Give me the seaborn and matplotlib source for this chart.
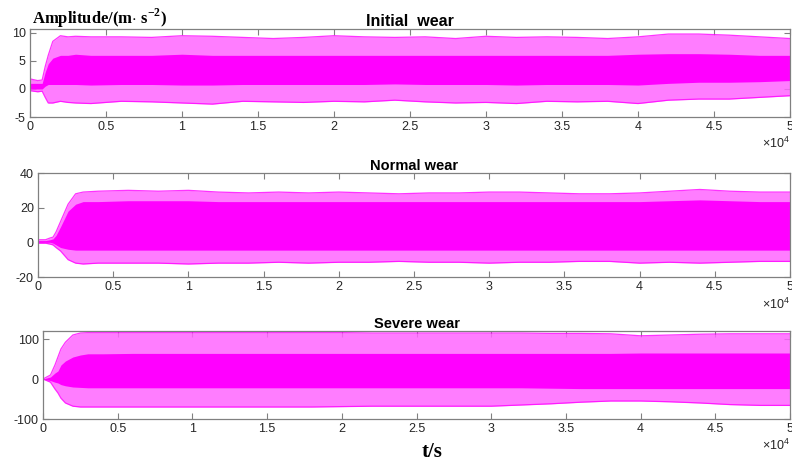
import numpy as np
import pandas as pd
import matplotlib
matplotlib.use("Agg")
import matplotlib.pyplot as plt
import seaborn as sns

# ---------------- data (x in units of 1e4 samples) -------------
x_env = [0, 0.05, 0.08, 0.10, 0.12, 0.15, 0.20, 0.25, 0.30, 0.40, 0.60, 0.80, 1.00, 1.20,
         1.40, 1.60, 1.80, 2.00, 2.20, 2.40, 2.60, 2.80, 3.00, 3.20, 3.40, 3.60, 3.80,
         4.00, 4.20, 4.40, 4.60, 4.80, 5.00]

# Initial wear
init_peak_hi = [1.8, 1.5, 1.6, 4.0, 6.0, 8.5, 9.5, 9.3, 9.4, 9.3, 9.3, 9.2, 9.5, 9.4,
                9.2, 9.0, 9.2, 9.5, 9.3, 9.2, 9.3, 9.0, 9.4, 9.2, 9.3, 9.2, 9.0,
                9.3, 9.8, 9.8, 9.6, 9.3, 9.0]
init_peak_lo = [-0.3, -0.5, -0.4, -1.5, -2.5, -2.5, -2.2, -2.4, -2.5, -2.6, -2.2, -2.3, -2.5, -2.7,
                -2.2, -2.3, -2.4, -2.2, -2.3, -2.0, -2.3, -2.5, -2.4, -2.6, -2.2, -2.3, -2.2,
                -2.6, -2.0, -1.8, -1.8, -1.5, -1.2]
init_core_hi = [1.0, 1.0, 1.0, 3.0, 4.5, 5.5, 6.0, 6.0, 6.2, 6.0, 6.0, 6.0, 6.2, 6.0,
                6.0, 6.0, 6.0, 6.0, 6.0, 6.0, 6.0, 6.0, 6.0, 6.0, 6.0, 6.0, 6.0,
                6.2, 6.3, 6.3, 6.2, 6.0, 6.0]
init_core_lo = [0.0, 0.0, 0.0, 0.5, 0.8, 0.8, 0.8, 0.8, 0.8, 0.7, 0.8, 0.8, 0.7, 0.7,
                0.8, 0.8, 0.8, 0.8, 0.8, 0.9, 0.8, 0.8, 0.8, 0.7, 0.8, 0.8, 0.8,
                0.7, 1.0, 1.2, 1.2, 1.3, 1.5]

# Normal wear
norm_peak_hi = [1.5, 1.5, 2.5, 3.0, 6.0, 12.0, 22.0, 28.0, 29.0, 29.5, 30.0, 29.5, 30.0, 29.0,
                28.5, 29.0, 28.5, 29.0, 28.5, 28.0, 28.5, 28.5, 29.0, 29.0, 28.5, 28.0, 28.0,
                28.5, 29.5, 30.5, 29.5, 29.0, 29.0]
norm_peak_lo = [-0.5, -0.5, -1.0, -1.5, -3.0, -5.0, -10.0, -12.0, -12.5, -12.0, -12.0, -12.0, -12.5, -12.0,
                -12.0, -11.5, -12.0, -11.5, -11.5, -11.0, -11.5, -11.5, -12.0, -11.5, -11.5, -11.0, -11.0,
                -12.0, -11.5, -12.0, -11.5, -11.0, -11.0]
norm_core_hi = [1.0, 1.0, 1.5, 2.0, 4.0, 9.0, 18.0, 22.0, 23.5, 23.5, 24.0, 24.0, 24.0, 23.5,
                23.5, 23.5, 23.5, 23.5, 23.5, 23.5, 23.5, 23.5, 23.5, 23.5, 23.5, 23.5, 23.5,
                23.5, 24.0, 24.5, 24.0, 23.5, 23.5]
norm_core_lo = [0.0, 0.0, 0.0, -0.5, -1.5, -3.0, -4.0, -4.5, -4.5, -4.5, -4.5, -4.5, -4.5, -4.5,
                -4.5, -4.5, -4.5, -4.5, -4.5, -4.5, -4.5, -4.5, -4.5, -4.5, -4.5, -4.5, -4.5,
                -4.5, -4.5, -4.5, -4.5, -4.5, -4.5]

# Severe wear
sev_peak_hi = [0, 10, 35, 55, 75, 92, 110, 115, 116, 116, 116, 116, 116, 116,
               116, 116, 116, 116, 115, 115, 115, 115, 115, 115, 114, 114, 113,
               108, 110, 112, 113, 113, 113]
sev_peak_lo = [0, -8, -25, -35, -48, -60, -68, -70, -70, -70, -70, -70, -70, -70,
               -70, -70, -70, -69, -68, -68, -68, -68, -68, -65, -62, -58, -55,
               -55, -57, -60, -64, -66, -66]
sev_core_hi = [0, 5, 15, 20, 35, 45, 55, 60, 63, 63, 64, 64, 64, 64,
               64, 64, 64, 64, 64, 64, 64, 64, 64, 64, 64, 64, 64,
               65, 65, 65, 65, 65, 65]
sev_core_lo = [0, -4, -8, -10, -14, -17, -20, -21, -22, -22, -22, -22, -22, -22,
               -22, -22, -22, -22, -22, -22, -22, -22, -22, -22, -23, -24, -24,
               -24, -24, -24, -24, -24, -24]

titles = ["Initial  wear", "Normal wear", "Severe wear"]
y_limits = [(-5, 10.7), (-20, 40), (-100, 120)]
y_ticks = [[-5, 0, 5, 10], [-20, 0, 20, 40], [-100, 0, 100]]
x_ticks = [0, 0.5, 1, 1.5, 2, 2.5, 3, 3.5, 4, 4.5, 5]
x_tick_labels = ["0", "0.5", "1", "1.5", "2", "2.5", "3", "3.5", "4", "4.5", "5"]

series = [
    (init_peak_hi, init_peak_lo, init_core_hi, init_core_lo),
    (norm_peak_hi, norm_peak_lo, norm_core_hi, norm_core_lo),
    (sev_peak_hi, sev_peak_lo, sev_core_hi, sev_core_lo),
]

# ---------------- style ----------------
sns.set_style("ticks")
plt.rcParams["font.family"] = ["Liberation Sans", "DejaVu Sans"]
plt.rcParams["axes.unicode_minus"] = False
plt.rcParams["mathtext.fontset"] = "custom"
plt.rcParams["mathtext.rm"] = "Liberation Sans"
plt.rcParams["mathtext.bf"] = "Liberation Serif:bold"

MAG = "#FF00FF"
LIGHT = "#FF66FF"
SPINE = "#808080"
TXT = "#262626"

fig = plt.figure(figsize=(7.92, 4.66), dpi=100)
positions = [
    [30 / 792, 1 - 117 / 466, 760 / 792, 88 / 466],
    [38 / 792, 1 - 277 / 466, 752 / 792, 104 / 466],
    [43 / 792, 1 - 419 / 466, 747 / 792, 88 / 466],
]
title_sizes = [11.5, 10.5, 10.5]

for i, (pos, (phi, plo, chi, clo)) in enumerate(zip(positions, series)):
    ax = fig.add_axes(pos)
    df = pd.DataFrame({"x": x_env, "phi": phi, "plo": plo, "chi": chi, "clo": clo})
    ax.fill_between(df["x"], df["plo"], df["phi"], color=LIGHT, alpha=0.85, lw=0)
    ax.fill_between(df["x"], df["clo"], df["chi"], color=MAG, lw=0)
    sns.lineplot(data=df, x="x", y="phi", ax=ax, color=MAG, lw=0.9, alpha=0.8)
    sns.lineplot(data=df, x="x", y="plo", ax=ax, color=MAG, lw=0.9, alpha=0.8)

    ax.set_xlim(0, 5)
    ax.set_ylim(*y_limits[i])
    ax.set_xticks(x_ticks)
    ax.set_xticklabels(x_tick_labels)
    ax.set_yticks(y_ticks[i])
    ax.set_yticklabels([str(v) for v in y_ticks[i]])
    ax.set_xlabel("")
    ax.set_ylabel("")
    ax.tick_params(direction="in", length=4, width=0.8, color=SPINE,
                   labelsize=9, labelcolor=TXT, top=True, right=True, pad=3)
    for s in ax.spines.values():
        s.set_color(SPINE)
        s.set_linewidth(0.9)
        s.set_visible(True)
    ax.set_title(titles[i], fontsize=title_sizes[i], fontweight="bold", color="black", pad=2)
    ax.text(1.0, -0.30 if i != 1 else -0.26, r"$\times10^{4}$", transform=ax.transAxes,
            ha="right", va="center", fontsize=9, color=TXT)

fig.text(32 / 792, 1 - 18 / 466, r"Amplitude/(m$\cdot$ s$^{\mathbf{-2}}$)",
         family=["Liberation Serif", "DejaVu Serif"], fontweight="bold",
         fontsize=12, ha="left", va="center", color="black")
fig.text(432 / 792, 1 - 452 / 466, "t/s", family=["Liberation Serif", "DejaVu Serif"],
         fontweight="bold", fontsize=15, ha="center", va="center", color="black")

fig.savefig("out.png", dpi=100, facecolor="white")
